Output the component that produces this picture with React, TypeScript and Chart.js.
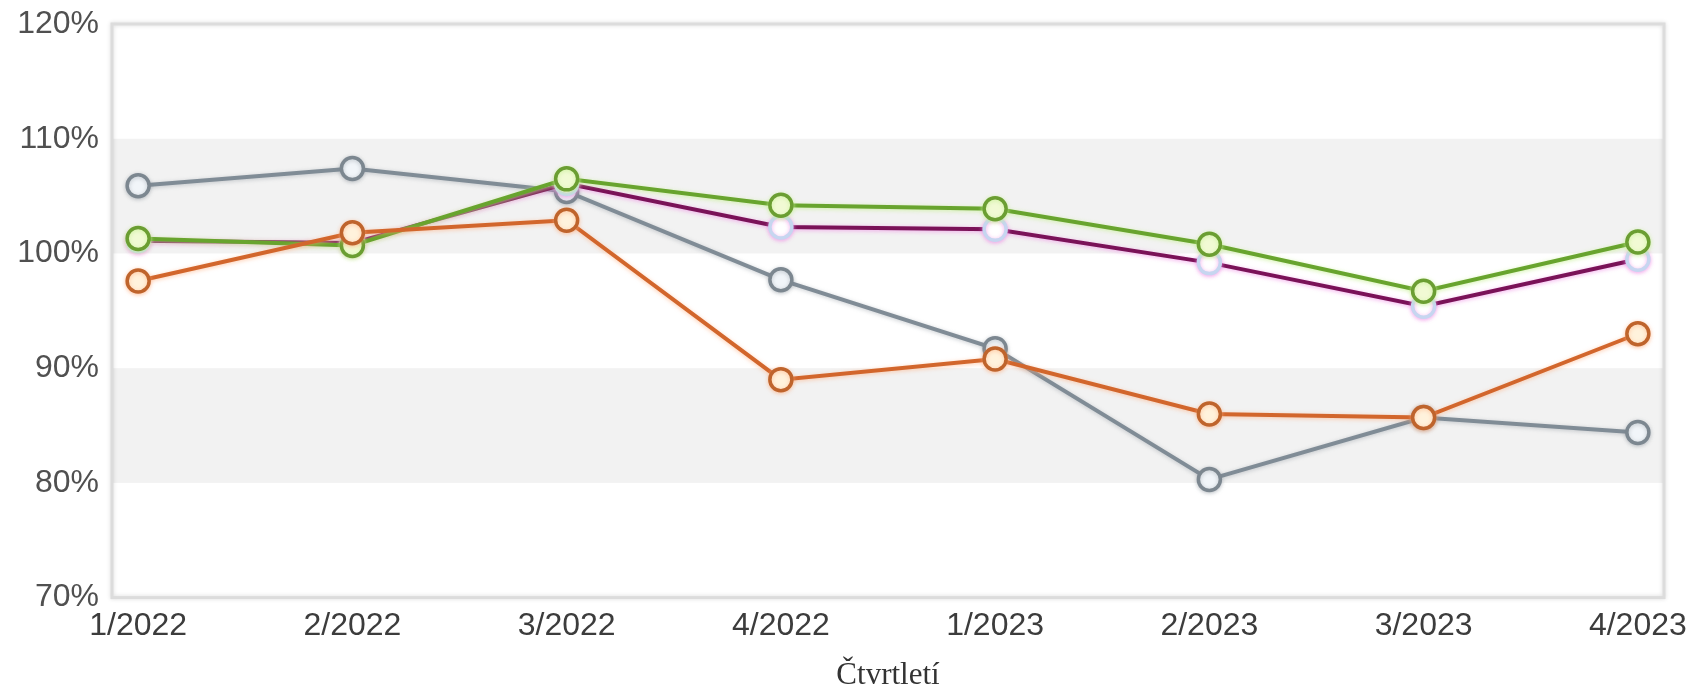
import React, { useEffect, useRef } from "react";
import { Chart, registerables } from "chart.js";

Chart.register(...registerables);

const quarters = ["1/2022", "2/2022", "3/2022", "4/2022", "1/2023", "2/2023", "3/2023", "4/2023"];
const orangeValues = [97.6, 101.8, 102.9, 89.0, 90.8, 86.0, 85.7, 93.0];
const greenValues = [101.3, 100.7, 106.5, 104.2, 103.9, 100.8, 96.7, 101.0];
const purpleValues = [101.1, 100.9, 106.1, 102.3, 102.1, 99.2, 95.4, 99.5];
const grayValues = [105.9, 107.4, 105.4, 97.7, 91.7, 80.3, 85.7, 84.4];
const yTicks = [70, 80, 90, 100, 110, 120];
const bands = [
  [80, 90],
  [100, 110],
];
const xTitle = "Čtvrtletí";

const toPoints = (arr: number[]) => arr.map((v, i) => ({ x: i, y: v }));

const bgPlugin = {
  id: "bgBands",
  beforeDatasetsDraw(chart: any) {
    const { ctx, chartArea } = chart;
    const y = chart.scales.y;
    ctx.save();
    ctx.fillStyle = "#ffffff";
    ctx.fillRect(chartArea.left, chartArea.top, chartArea.right - chartArea.left, chartArea.bottom - chartArea.top);
    ctx.fillStyle = "#f2f2f2";
    bands.forEach(([a, b]) => {
      const y1 = y.getPixelForValue(b);
      const y2 = y.getPixelForValue(a);
      ctx.fillRect(chartArea.left, y1, chartArea.right - chartArea.left, y2 - y1);
    });
    ctx.shadowColor = "rgba(0,0,0,0.15)";
    ctx.shadowBlur = 4;
    ctx.strokeStyle = "#dcdcdc";
    ctx.lineWidth = 3;
    ctx.strokeRect(chartArea.left, chartArea.top, chartArea.right - chartArea.left, chartArea.bottom - chartArea.top);
    ctx.restore();
  },
};

const glowPlugin = {
  id: "glow",
  beforeDatasetDraw(chart: any, args: any) {
    const ds = chart.data.datasets[args.index];
    chart.ctx.save();
    chart.ctx.shadowColor = ds.glowColor || "rgba(0,0,0,0.2)";
    chart.ctx.shadowBlur = 4;
    chart.ctx.shadowOffsetX = 0;
    chart.ctx.shadowOffsetY = 1;
  },
  afterDatasetDraw(chart: any) {
    chart.ctx.restore();
  },
};

export default function App() {
  const ref = useRef<HTMLCanvasElement | null>(null);
  useEffect(() => {
    document.body.style.margin = "0";
    const mk = (label: string, values: number[], line: string, border: string, fill: string, glow: string) => ({
      label,
      data: toPoints(values),
      borderColor: line,
      borderWidth: 4,
      pointRadius: 11,
      pointBorderWidth: 3.5,
      pointBorderColor: border,
      pointBackgroundColor: fill,
      glowColor: glow,
      tension: 0,
    });
    const chart = new Chart(ref.current as HTMLCanvasElement, {
      type: "line",
      data: {
        datasets: [
          mk("A", orangeValues, "#d2662c", "#bf642c", "#fff2dc", "rgba(255,170,120,0.6)"),
          mk("B", greenValues, "#68a42e", "#6b9e32", "#f1fad4", "rgba(200,240,150,0.8)"),
          mk("C", purpleValues, "#7a1258", "#c6d6f0", "#ffffff", "rgba(240,140,230,0.7)"),
          mk("D", grayValues, "#808c96", "#7c8790", "#f1f5f9", "rgba(120,130,140,0.4)"),
        ] as any,
      },
      options: {
        animation: false,
        responsive: true,
        maintainAspectRatio: false,
        layout: { padding: { top: 24, right: 30, bottom: 0, left: 0 } },
        plugins: { legend: { display: false }, tooltip: { enabled: false }, title: { display: false } },
        scales: {
          x: {
            type: "linear",
            min: -0.122,
            max: 7.122,
            grid: { display: false, drawTicks: false },
            border: { display: false },
            afterBuildTicks: (s: any) => {
              s.ticks = quarters.map((_, i) => ({ value: i }));
            },
            afterFit: (s: any) => {
              s.paddingLeft = 0;
              s.paddingRight = 0;
            },
            ticks: {
              autoSkip: false,
              maxRotation: 0,
              padding: 9,
              color: "#3c3c3c",
              font: { family: "Liberation Sans, Arial, sans-serif", size: 32 },
              callback: (v: any) => quarters[Math.round(Number(v))] ?? "",
            },
            title: {
              display: true,
              text: xTitle,
              color: "#333",
              padding: { top: 6, bottom: 0 },
              font: { family: "Liberation Serif, Times New Roman, serif", size: 31, lineHeight: 1 },
            },
          },
          y: {
            min: 70,
            max: 120,
            afterBuildTicks: (s: any) => {
              s.ticks = yTicks.map((v) => ({ value: v }));
            },
            afterFit: (s: any) => {
              s.width = 112;
              s.paddingTop = 0;
              s.paddingBottom = 0;
            },
            grid: { display: false, drawTicks: false },
            border: { display: false },
            ticks: {
              padding: 13,
              color: "#505050",
              font: { family: "Liberation Sans, Arial, sans-serif", size: 32 },
              callback: (v: any) => v + "%",
            },
          },
        },
      },
      plugins: [bgPlugin, glowPlugin],
    } as any);
    return () => chart.destroy();
  }, []);
  return (
    <div style={{ width: 1694, height: 691, position: "relative" }}>
      <canvas ref={ref} />
    </div>
  );
}
